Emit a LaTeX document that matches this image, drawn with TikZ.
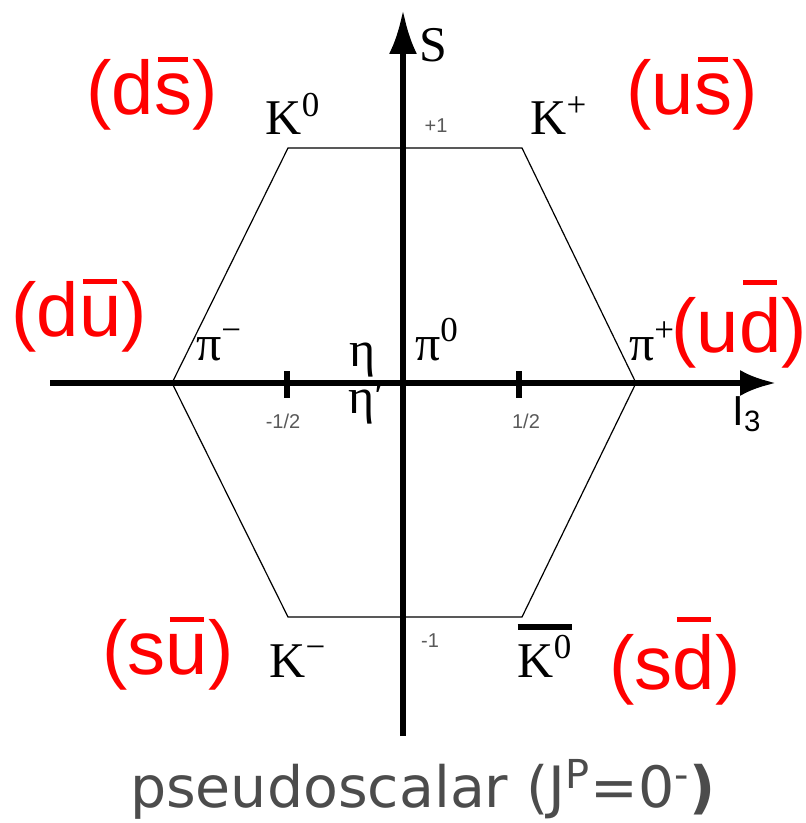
\documentclass[tikz,border=0pt]{standalone}
\usepackage{fontspec}
\setmainfont{Liberation Serif}
\newfontfamily\quarkfont{Liberation Sans}
\newfontfamily\capfont{DejaVu Sans}
\usetikzlibrary{arrows.meta}
\newcommand{\anti}[1]{\setbox0\hbox{#1}\vbox{\offinterlineskip
  \hbox to \wd0{\hss\vrule height 2.5pt depth 0pt width \dimexpr\wd0-4pt\relax\hss}\kern6pt\box0}}
\newcommand{\barkaon}{\vbox{\hrule height 3pt\kern 3pt\hbox{K\textsuperscript{0}}}}

\begin{document}
\begin{tikzpicture}[x=0.5pt,y=-0.5pt,
  axis/.style={line width=3pt},
  hexline/.style={line width=0.6pt},
  meson/.style={anchor=base,inner sep=0pt,font=\fontsize{25}{27}\selectfont},
  ticklabel/.style={anchor=base,inner sep=0pt,text=black!65,font=\quarkfont\fontsize{10}{12}\selectfont},
  quark/.style={anchor=base,inner sep=0pt,text=red,font=\quarkfont\fontsize{38}{40}\selectfont}]
  \useasboundingbox (0,0) rectangle (805,823);
  % axes
  \coordinate (sbot) at (403,736);
  \coordinate (stop) at (403,10);
  \coordinate (ileft) at (50,383);
  \coordinate (iright) at (776,383);
  \draw[axis,-{Latex[length=22pt,width=14pt]}] (sbot) -- (stop);
  \draw[axis,-{Latex[length=18pt,width=13pt]}] (ileft) -- (iright);
  \node[inner sep=0pt,anchor=base,font=\fontsize{25}{27}\selectfont] (lblS) at (433,62) {S};
  \node[inner sep=0pt,anchor=base,font=\quarkfont\fontsize{21}{23}\selectfont] (lblI) at (747,425) {I\textsubscript{3}};
  % hexagon of the nonet
  \coordinate (vK0) at (288,148);
  \coordinate (vKp) at (522,148);
  \coordinate (vpip) at (636,383);
  \coordinate (vK0b) at (522,617);
  \coordinate (vKm) at (288,617);
  \coordinate (vpim) at (172,383);
  \draw[hexline] (vK0) -- (vKp) -- (vpip) -- (vK0b) -- (vKm) -- (vpim) -- cycle;
  \foreach \x in {287,519}
    \draw[axis] (\x,371) -- (\x,398);
  \node[ticklabel] (tp1) at (436,133) {+1};
  \node[ticklabel] (tm1) at (430,647) {-1};
  \node[ticklabel] (tmh) at (283,428) {-1/2};
  \node[ticklabel] (tph) at (526,428) {1/2};
  % mesons
  \node[meson] (mK0) at (293,135) {K\textsuperscript{0}};
  \node[meson] (mKp) at (559,135) {K\textsuperscript{+}};
  \node[meson] (mpim) at (219,360) {π\textsuperscript{−}};
  \node[meson] (meta) at (363,366) {η};
  \node[meson] (mpiz) at (437,360) {π\textsuperscript{0}};
  \node[meson] (mpip) at (652,360) {π\textsuperscript{+}};
  \node[meson] (metap) at (367,413) {η′};
  \node[meson] (mKm) at (298,677) {K\textsuperscript{−}};
  \node[meson] (mK0b) at (545,677) {\barkaon};
  % quark content
  \node[quark] (qds) at (152,115) {(d\anti{s})};
  \node[quark] (qus) at (692,115) {(u\anti{s})};
  \node[quark] (qdu) at (79,336) {(d\anti{u})};
  \node[quark] (qud) at (739,352) {(u\anti{d})};
  \node[quark] (qsu) at (168,674) {(s\anti{u})};
  \node[quark] (qsd) at (675,689) {(s\anti{d})};
  \node[anchor=base,inner sep=0pt,text=black!70,font=\capfont\fontsize{28.5}{30}\selectfont] (caption) at (423,807)
    {pseudoscalar (J\textsuperscript{P}=0\textsuperscript{-}\textbf{)}};
\end{tikzpicture}
\end{document}
